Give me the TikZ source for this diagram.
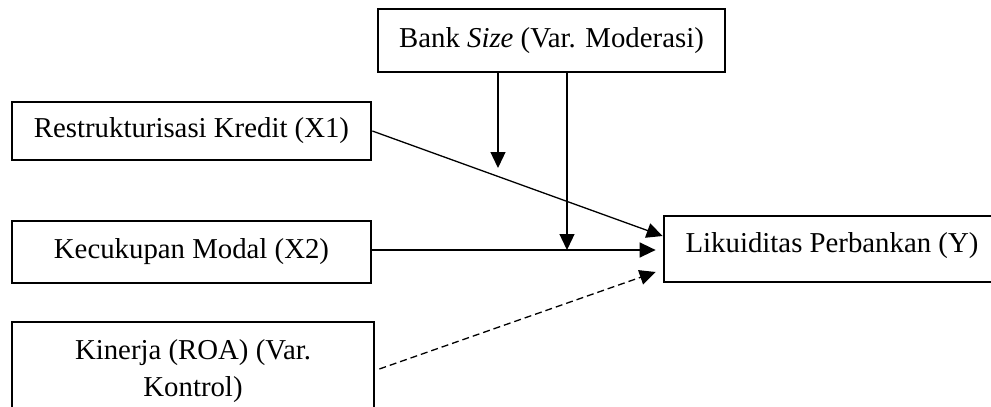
\documentclass[tikz,border=0pt]{standalone}
\usepackage{fontspec}
\setmainfont{Liberation Serif}
\usetikzlibrary{arrows.meta,calc}
\begin{document}
\begin{tikzpicture}[x=0.5pt,y=-0.5pt,
  box/.style={draw,line width=1.35pt,inner sep=0pt,align=center,
    font=\fontsize{14.4}{18.5}\selectfont},
  conn/.style={line width=0.65pt,-{Triangle[length=8pt,width=7.5pt]}},
  dashconn/.style={conn,dash pattern=on 3.5pt off 2pt}]
\useasboundingbox (0,0) rectangle (991,407);
\clip (0,0) rectangle (991,407);
\node[box,minimum width=173.5pt,minimum height=31.5pt] (bank) at (551.5,40.5) {Bank \textit{Size} (Var. Moderasi)};
\node[box,minimum width=179.5pt,minimum height=29pt] (x1) at (191.5,131) {Restrukturisasi Kredit (X1)};
\node[box,minimum width=179.5pt,minimum height=31pt] (x2) at (191.5,252) {Kecukupan Modal (X2)};
\node[box,minimum width=181pt,minimum height=49pt] (k) at (193,371) {Kinerja (ROA) (Var.\\Kontrol)};
\node[box,minimum width=168pt,minimum height=33pt,text height=10pt,text depth=7pt] (y) at (832,249) {Likuiditas Perbankan (Y)};
\coordinate (ty1) at ($(y.west)+(0,-13)$);
\coordinate (ty2) at ($(y.west)+(-7,1)$);
\coordinate (ty3) at ($(y.west)+(-7,23)$);
\coordinate (m1) at (498,168);
\coordinate (m2) at (567,250);
\draw[conn] (x1.east) -- (ty1);
\draw[conn] (x2.east |- ty2) -- (ty2);
\draw[dashconn] ($(k.east)+(4,-2)$) -- (ty3);
\draw[conn] (bank.south -| m1) -- (m1);
\draw[conn] (bank.south -| m2) -- (m2);
\end{tikzpicture}
\end{document}
